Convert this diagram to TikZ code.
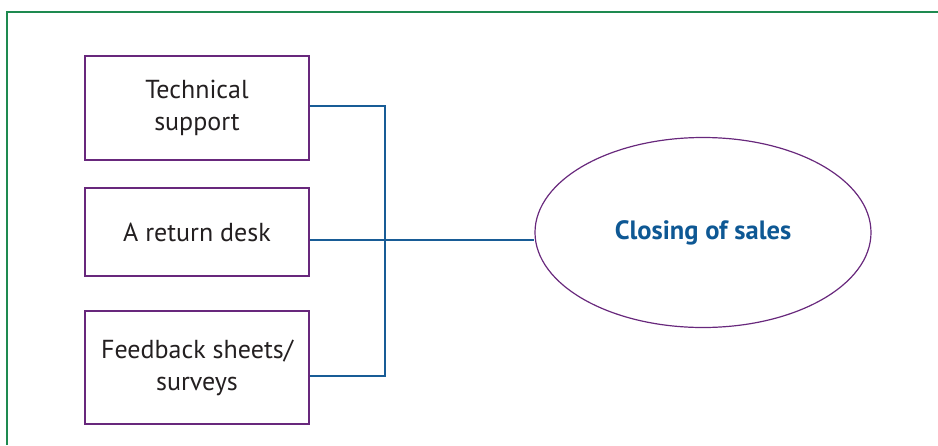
\documentclass[tikz,border=0pt]{standalone}
\usepackage{fontspec}
\setmainfont{PT Sans}
\usetikzlibrary{shapes.geometric}
\definecolor{framegreen}{RGB}{30,138,80}
\definecolor{boxpurple}{RGB}{104,40,124}
\definecolor{linkblue}{RGB}{24,92,150}
\definecolor{titleblue}{RGB}{14,88,148}
\definecolor{textgray}{RGB}{35,31,32}
\tikzset{
  itembox/.style={draw=boxpurple, line width=1.4pt, minimum width=224pt, align=center,
    text=textgray, font=\fontsize{26}{32}\selectfont, inner sep=0pt},
  goal/.style={draw=boxpurple, line width=1.2pt, ellipse, minimum width=336pt, minimum height=190pt,
    inner sep=0pt, text=titleblue, font=\fontsize{26.5}{30}\selectfont\bfseries},
  conn/.style={draw=linkblue, line width=1.1pt},
  frame/.style={draw=framegreen, line width=2pt}
}
\begin{document}
\begin{tikzpicture}[x=1pt,y=-1pt]
\useasboundingbox (0,0) rectangle (938,445);
\draw[frame] (6.5,445) -- (6.5,11.5) -- (938,11.5);
\node[itembox, minimum height=104pt] (b1) at (197,108) {Technical\\support};
\node[itembox, minimum height=88pt] (b2) at (197,232) {A return desk};
\node[itembox, minimum height=113pt] (b3) at (197,367.5) {Feedback sheets/\\surveys};
\node[goal] (e) at (703,232.5) {Closing of sales};
\coordinate (j) at (385,240);
\draw[conn] ([yshift=2pt]b1.east) -| (j) |- ([yshift=-8.5pt]b3.east);
\draw[conn] (b2.east |- j) -- (e.west |- j);
\end{tikzpicture}
\end{document}
